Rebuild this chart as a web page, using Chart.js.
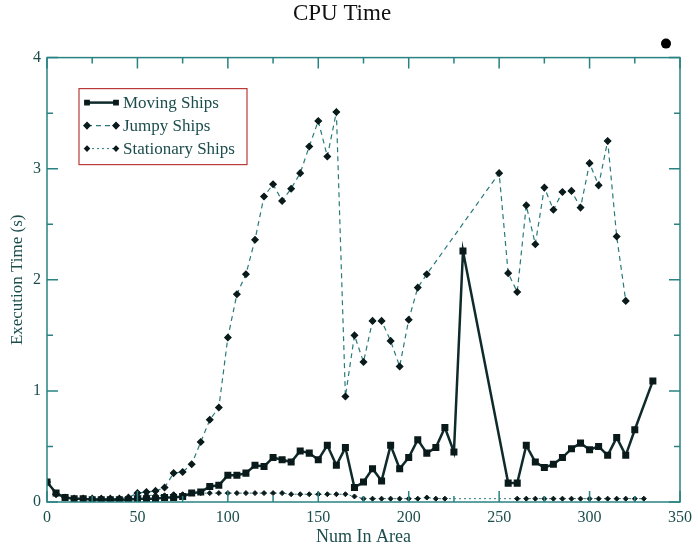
<!DOCTYPE html>
<html>
<head>
<meta charset="utf-8">
<script src="https://cdn.jsdelivr.net/npm/chart.js@4"></script>
<style>
  html, body { margin: 0; padding: 0; background: #fff; }
  #wrap { width: 698px; height: 554px; }
</style>
</head>
<body>
<div id="wrap"><canvas id="cpuChart" width="698" height="554"></canvas></div>
<script>
// num in area (x) and execution time in seconds (y)
var movingX = [0, 5, 10, 15, 20, 25, 30, 35, 40, 45, 50, 55, 60, 65, 70, 75, 80, 85, 90, 95,
    100, 105, 110, 115, 120, 125, 130, 135, 140, 145, 150, 155, 160, 165, 170, 175, 180, 185, 190, 195,
    200, 205, 210, 215, 220, 225, 230, 255, 260, 265, 270, 275, 280, 285, 290, 295,
    300, 305, 310, 315, 320, 325, 335];
var movingY = [0.18, 0.08, 0.04, 0.03, 0.03, 0.02, 0.02, 0.02, 0.02, 0.02, 0.03, 0.03, 0.03, 0.04, 0.04, 0.05, 0.08, 0.09, 0.14, 0.15,
    0.24, 0.24, 0.26, 0.33, 0.32, 0.40, 0.38, 0.36, 0.46, 0.44, 0.38, 0.51, 0.33, 0.49, 0.13, 0.18, 0.30, 0.19, 0.51, 0.30,
    0.40, 0.56, 0.44, 0.49, 0.67, 0.45, 2.26, 0.17, 0.17, 0.51, 0.36, 0.31, 0.34, 0.40, 0.48, 0.53,
    0.47, 0.50, 0.42, 0.58, 0.42, 0.65, 1.09];

var jumpyX = [0, 5, 10, 15, 20, 25, 30, 35, 40, 45, 50, 55, 60, 65, 70, 75, 80, 85, 90, 95,
    100, 105, 110, 115, 120, 125, 130, 135, 140, 145, 150, 155, 160, 165, 170, 175, 180, 185, 190, 195,
    200, 205, 210, 250, 255, 260, 265, 270, 275, 280, 285, 290, 295, 300, 305, 310, 315, 320];
var jumpyY = [0.18, 0.07, 0.04, 0.03, 0.03, 0.03, 0.03, 0.03, 0.03, 0.04, 0.08, 0.09, 0.10, 0.13, 0.26, 0.27, 0.34, 0.54, 0.74, 0.85,
    1.48, 1.87, 2.05, 2.36, 2.75, 2.86, 2.71, 2.82, 2.96, 3.20, 3.43, 3.11, 3.51, 0.95, 1.50, 1.26, 1.63, 1.63, 1.45, 1.22,
    1.64, 1.93, 2.05, 2.96, 2.06, 1.89, 2.67, 2.32, 2.83, 2.63, 2.79, 2.80, 2.65, 3.05, 2.85, 3.25, 2.39, 1.81];

var stationaryX = [0, 5, 10, 15, 20, 25, 30, 35, 40, 45, 50, 55, 60, 65, 70, 75, 80, 85, 90, 95,
    100, 105, 110, 115, 120, 125, 130, 135, 140, 145, 150, 155, 160, 165, 170, 175, 180, 185, 190, 195,
    200, 205, 210, 215, 220, 260, 265, 270, 275, 280, 285, 290, 295, 300, 305, 310, 315, 320, 325, 330];
var stationaryY = [0.18, 0.07, 0.04, 0.03, 0.03, 0.03, 0.03, 0.03, 0.03, 0.03, 0.05, 0.06, 0.06, 0.06, 0.07, 0.07, 0.08, 0.08, 0.08, 0.08,
    0.08, 0.08, 0.08, 0.08, 0.08, 0.08, 0.08, 0.07, 0.07, 0.07, 0.07, 0.07, 0.07, 0.07, 0.05, 0.03, 0.03, 0.03, 0.03, 0.03,
    0.03, 0.03, 0.04, 0.03, 0.03, 0.03, 0.03, 0.03, 0.03, 0.03, 0.03, 0.03, 0.03, 0.03, 0.03, 0.03, 0.03, 0.03, 0.03, 0.03];

var xTicks = [0, 50, 100, 150, 200, 250, 300, 350];
var yTicks = [0, 1, 2, 3, 4];

var serif = '"Liberation Serif", "DejaVu Serif", serif';
var frameColor = '#2a8282';
var textColor = '#1c4d4d';

function pts(xs, ys) {
    return xs.map(function (x, i) { return {x: x, y: ys[i]}; });
}

// xmgrace style frame with inward ticks, legend box and the stray dot
var gracePlugin = {
    id: 'grace',
    afterDatasetsDraw: function (chart) {
        var ctx = chart.ctx;
        var a = chart.chartArea;
        var xs = chart.scales.x, ys = chart.scales.y;
        ctx.save();
        ctx.strokeStyle = frameColor;
        ctx.lineWidth = 1.5;
        ctx.strokeRect(a.left, a.top, a.right - a.left, a.bottom - a.top);
        ctx.beginPath();
        for (var v = 0; v <= 350; v += 25) {
            var len = (v % 50 === 0) ? 11 : 6;
            var px = xs.getPixelForValue(v);
            ctx.moveTo(px, a.bottom); ctx.lineTo(px, a.bottom - len);
            ctx.moveTo(px, a.top); ctx.lineTo(px, a.top + len);
        }
        for (var w = 0; w <= 4; w += 0.5) {
            var l2 = (w % 1 === 0) ? 11 : 6;
            var py = ys.getPixelForValue(w);
            ctx.moveTo(a.left, py); ctx.lineTo(a.left + l2, py);
            ctx.moveTo(a.right, py); ctx.lineTo(a.right - l2, py);
        }
        ctx.stroke();

        // legend
        var bx = a.left + 32, by = a.top + 31, bw = 168, bh = 76;
        ctx.strokeStyle = '#b83a3a';
        ctx.lineWidth = 1.2;
        ctx.strokeRect(bx, by, bw, bh);
        ctx.font = '17px ' + serif;
        ctx.textBaseline = 'middle';
        ctx.fillStyle = textColor;
        chart.data.datasets.forEach(function (ds, i) {
            var ry = by + 14 + i * 23;
            ctx.save();
            ctx.strokeStyle = ds.borderColor;
            ctx.lineWidth = ds.borderWidth;
            ctx.setLineDash(ds.borderDash || []);
            ctx.beginPath();
            ctx.moveTo(bx + 8, ry); ctx.lineTo(bx + 37, ry);
            ctx.stroke();
            ctx.restore();
            var opts = {pointStyle: ds.pointStyle, radius: ds.pointRadius, borderWidth: 1, rotation: 0};
            ctx.fillStyle = ds.pointBackgroundColor;
            ctx.strokeStyle = ds.pointBorderColor;
            Chart.helpers.drawPoint(ctx, opts, bx + 8, ry);
            Chart.helpers.drawPoint(ctx, opts, bx + 37, ry);
            ctx.fillStyle = textColor;
            ctx.fillText(ds.label, bx + 44, ry + 1);
        });

        // stray dot above the top right corner
        ctx.fillStyle = '#000';
        ctx.beginPath();
        ctx.arc(a.right - 14, a.top - 14, 5, 0, Math.PI * 2);
        ctx.fill();
        ctx.restore();
    }
};

var ctx = document.getElementById('cpuChart').getContext('2d');
var myChart = new Chart(ctx, {
    type: 'line',
    data: {
        datasets: [{
            label: 'Moving Ships',
            data: pts(movingX, movingY),
            borderColor: '#0f2a2a',
            borderWidth: 2.5,
            pointStyle: 'rect',
            pointRadius: 3.2,
            pointBackgroundColor: '#0a1a1a',
            pointBorderColor: '#0a1a1a'
        }, {
            label: 'Jumpy Ships',
            data: pts(jumpyX, jumpyY),
            borderColor: '#2a7a7a',
            borderWidth: 1.2,
            borderDash: [5, 4],
            pointStyle: 'rectRot',
            pointRadius: 3.2,
            pointBackgroundColor: '#0a1a1a',
            pointBorderColor: '#0a1a1a'
        }, {
            label: 'Stationary Ships',
            data: pts(stationaryX, stationaryY),
            borderColor: '#2a7a7a',
            borderWidth: 1,
            borderDash: [2, 3],
            pointStyle: 'rectRot',
            pointRadius: 2.5,
            pointBackgroundColor: '#0a1a1a',
            pointBorderColor: '#0a1a1a'
        }]
    },
    options: {
        responsive: false,
        animation: false,
        layout: {padding: {left: 0, right: 14, top: 0, bottom: 0}},
        elements: {line: {tension: 0}},
        plugins: {
            legend: {display: false},
            tooltip: {enabled: false},
            title: {
                display: true,
                text: 'CPU Time',
                color: '#111',
                font: {family: serif, size: 23, weight: 'normal', lineHeight: 1.2},
                padding: {top: 0, bottom: 30}
            }
        },
        scales: {
            x: {
                type: 'linear',
                min: 0,
                max: 350,
                afterBuildTicks: function (s) { s.ticks = xTicks.map(function (v) { return {value: v}; }); },
                afterFit: function (s) { s.height = 52; },
                grid: {display: false, drawTicks: false},
                border: {display: false},
                ticks: {color: textColor, padding: 6, autoSkip: false, maxRotation: 0,
                    font: {family: serif, size: 16}},
                title: {display: true, text: 'Num In Area', color: textColor,
                    font: {family: serif, size: 18}, padding: {top: 0, bottom: 6}}
            },
            y: {
                min: 0,
                max: 4,
                afterBuildTicks: function (s) { s.ticks = yTicks.map(function (v) { return {value: v}; }); },
                afterFit: function (s) { s.width = 47; },
                grid: {display: false, drawTicks: false},
                border: {display: false},
                ticks: {color: textColor, padding: 6, font: {family: serif, size: 16}},
                title: {display: true, text: 'Execution Time (s)', color: textColor,
                    font: {family: serif, size: 17}, padding: {top: 7, bottom: 0}}
            }
        }
    },
    plugins: [gracePlugin]
});
</script>
</body>
</html>
